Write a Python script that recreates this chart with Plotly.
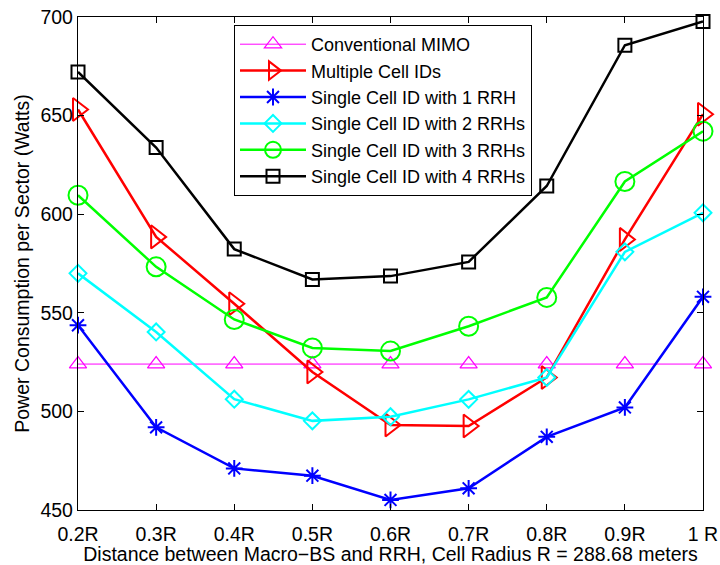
import plotly.graph_objects as go

categories = ["0.2R", "0.3R", "0.4R", "0.5R", "0.6R", "0.7R", "0.8R", "0.9R", "1 R"]

conventional_mimo = [524, 524, 524, 524, 524, 524, 524, 524, 524]
multiple_cell_ids = [653.1, 588.5, 554.6, 520.0, 493.1, 492.6, 517.2, 587.2, 650.7]
single_1_rrh = [543.7, 491.9, 471.1, 467.4, 455.1, 461.0, 487.1, 502.0, 558.1]
single_2_rrhs = [570.0, 540.3, 506.2, 495.2, 497.3, 506.1, 517.2, 580.9, 600.7]
single_3_rrhs = [609.6, 573.3, 546.6, 532.2, 530.6, 543.2, 557.8, 616.6, 642.1]
single_4_rrhs = [672.1, 633.8, 582.3, 566.9, 568.6, 575.8, 614.3, 685.7, 697.7]

y_ticks = [450, 500, 550, 600, 650, 700]

series = [
    ("Conventional MIMO", conventional_mimo, "#FF00FF", "triangle-up-open", 15, 1.0),
    ("Multiple Cell IDs", multiple_cell_ids, "#FF0000", "triangle-right-open", 20, 2.5),
    ("Single Cell ID with 1 RRH", single_1_rrh, "#0000FF", "asterisk-open", 14, 2.5),
    ("Single Cell ID with 2 RRHs", single_2_rrhs, "#00FFFF", "diamond-open", 13, 2.5),
    ("Single Cell ID with 3 RRHs", single_3_rrhs, "#00FF00", "circle-open", 19, 2.5),
    ("Single Cell ID with 4 RRHs", single_4_rrhs, "#000000", "square-open", 13, 2.5),
]

FONT = "Liberation Sans, Arial, Helvetica, sans-serif"
FS = 19.5

fig = go.Figure()
for name, vals, color, symbol, msize, lw in series:
    fig.add_trace(go.Scatter(
        x=categories, y=vals, name=name, mode="lines+markers",
        line=dict(color=color, width=lw),
        marker=dict(symbol=symbol, size=msize, color=color,
                    line=dict(color=color, width=2 if lw > 1 else 1.2)),
        cliponaxis=False,
    ))

fig.update_layout(
    width=720, height=565,
    margin=dict(l=78, r=17, t=17, b=55, autoexpand=False),
    paper_bgcolor="white", plot_bgcolor="white",
    font=dict(family=FONT, size=FS, color="black"),
    showlegend=True,
    legend=dict(
        x=(234 - 78) / 625, y=(510 - 25) / 493, xanchor="left", yanchor="top",
        bgcolor="white", bordercolor="black", borderwidth=1,
        font=dict(family=FONT, size=18, color="black"),
        itemwidth=66, tracegroupgap=0,
    ),
    xaxis=dict(
        type="category", categoryorder="array", categoryarray=categories,
        range=[0, len(categories) - 1], automargin=False,
        showline=True, linecolor="black", linewidth=1.3, mirror="ticks",
        ticks="inside", ticklen=6, tickcolor="black", tickwidth=1,
        ticklabelstandoff=6,
        showgrid=False, zeroline=False,
        title=dict(text="Distance between Macro\u2212BS and RRH, Cell Radius R = 288.68 meters",
                   font=dict(family=FONT, size=FS, color="black"), standoff=3),
    ),
    yaxis=dict(
        range=[450, 700], tickvals=y_ticks, automargin=False,
        showline=True, linecolor="black", linewidth=1.3, mirror="ticks",
        ticks="inside", ticklen=6, tickcolor="black", tickwidth=1,
        showgrid=False, zeroline=False,
        title=dict(text="Power Consumption per Sector (Watts)",
                   font=dict(family=FONT, size=FS, color="black"), standoff=5),
    ),
)

fig.write_html("out.html")
